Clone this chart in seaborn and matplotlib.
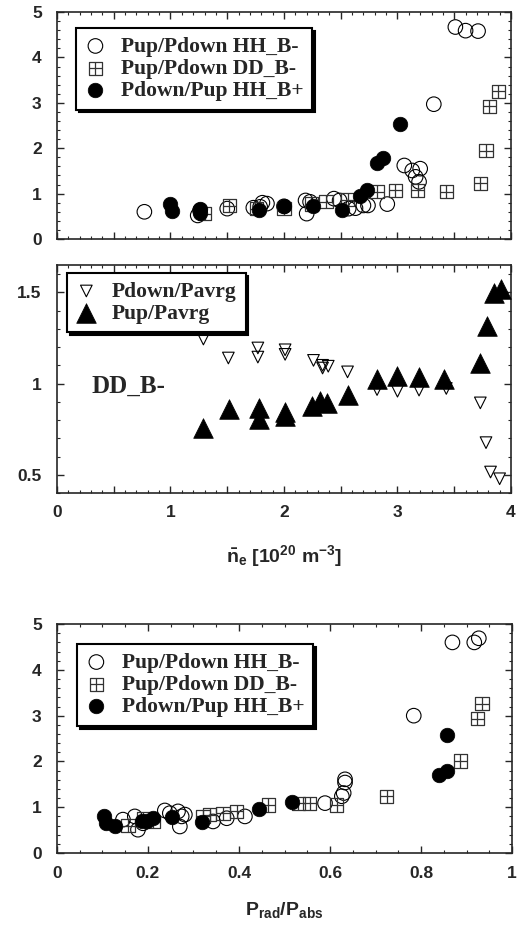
import numpy as np
import seaborn as sns
import matplotlib
import matplotlib.pyplot as plt
from matplotlib.path import Path
from matplotlib.ticker import MultipleLocator, FuncFormatter

# ---- data: top panel (vs line averaged density, 1e20 m^-3) ----
ne_hh_minus = [0.77, 1.24, 1.26, 1.50, 1.73, 1.81, 1.79, 1.85, 2.00, 2.19, 2.20, 2.23, 2.44, 2.49,
               2.57, 2.63, 2.70, 2.74, 2.91, 3.06, 3.13, 3.20, 3.16, 3.19, 3.32, 3.51, 3.60, 3.71]
r_hh_minus = [0.60, 0.52, 0.63, 0.67, 0.69, 0.80, 0.71, 0.78, 0.72, 0.85, 0.56, 0.82, 0.89, 0.85,
              0.67, 0.68, 0.74, 0.74, 0.77, 1.62, 1.51, 1.55, 1.37, 1.26, 2.97, 4.67, 4.59, 4.58]

ne_dd_minus = [1.30, 1.52, 1.76, 2.00, 2.24, 2.37, 2.56, 2.82, 2.98, 3.18, 3.43, 3.73, 3.78, 3.81, 3.89]
r_dd_minus = [0.56, 0.73, 0.67, 0.67, 0.77, 0.82, 0.87, 1.04, 1.07, 1.07, 1.04, 1.23, 1.95, 2.92, 3.25]

ne_hh_plus = [1.00, 1.01, 1.26, 1.26, 1.78, 2.00, 2.26, 2.51, 2.67, 2.73, 2.82, 2.87, 3.02]
r_hh_plus = [0.77, 0.62, 0.67, 0.58, 0.65, 0.72, 0.72, 0.65, 0.94, 1.09, 1.68, 1.79, 2.53]

# ---- data: middle panel (DD_B-) ----
ne_down = [1.29, 1.51, 1.77, 1.77, 2.01, 2.01, 2.26, 2.34, 2.34, 2.39, 2.56, 2.82, 3.00, 3.19,
           3.43, 3.73, 3.78, 3.82, 3.90]
pdown_avg = [1.244, 1.14, 1.195, 1.145, 1.185, 1.16, 1.127, 1.085, 1.10, 1.095, 1.064, 0.967,
             0.958, 0.964, 0.973, 0.894, 0.676, 0.515, 0.478]

ne_up = [1.29, 1.52, 1.78, 1.78, 2.01, 2.01, 2.25, 2.32, 2.38, 2.56, 2.82, 3.00, 3.19, 3.41,
         3.73, 3.79, 3.85, 3.91]
pup_avg = [0.758, 0.858, 0.867, 0.804, 0.844, 0.82, 0.876, 0.904, 0.895, 0.935, 1.025, 1.04,
           1.035, 1.025, 1.11, 1.316, 1.495, 1.516]

# ---- data: bottom panel (vs Prad/Pabs) ----
f_hh_minus = [0.145, 0.171, 0.178, 0.189, 0.237, 0.248, 0.266, 0.274, 0.281, 0.270, 0.343, 0.373,
              0.413, 0.589, 0.626, 0.630, 0.633, 0.633, 0.784, 0.869, 0.917, 0.927]
r2_hh_minus = [0.73, 0.80, 0.51, 0.65, 0.93, 0.87, 0.91, 0.80, 0.84, 0.58, 0.69, 0.76,
               0.80, 1.09, 1.24, 1.31, 1.54, 1.61, 3.00, 4.60, 4.60, 4.69]

f_dd_minus = [0.156, 0.190, 0.211, 0.321, 0.336, 0.365, 0.395, 0.464, 0.530, 0.555, 0.615, 0.725,
              0.886, 0.924, 0.934]
r2_dd_minus = [0.60, 0.76, 0.69, 0.80, 0.84, 0.87, 0.91, 1.05, 1.09, 1.09, 1.05, 1.24,
               2.01, 2.93, 3.26]

f_hh_plus = [0.103, 0.107, 0.127, 0.186, 0.197, 0.211, 0.252, 0.318, 0.445, 0.516, 0.839, 0.857, 0.858]
r2_hh_plus = [0.80, 0.65, 0.58, 0.69, 0.71, 0.76, 0.78, 0.67, 0.97, 1.11, 1.71, 1.80, 2.57]

lbl_hh_minus = "Pup/Pdown HH_B-"
lbl_dd_minus = "Pup/Pdown DD_B-"
lbl_hh_plus = "Pdown/Pup HH_B+"

sns.set_style("ticks")
plt.rcParams["font.family"] = ["Liberation Sans", "DejaVu Sans"]
plt.rcParams["font.weight"] = "bold"
plt.rcParams["mathtext.fontset"] = "custom"
plt.rcParams["mathtext.rm"] = "Liberation Sans:bold"
plt.rcParams["mathtext.it"] = "Liberation Sans:bold"
plt.rcParams["mathtext.bf"] = "Liberation Sans:bold"
plt.rcParams["axes.linewidth"] = 1.2

# square with a cross inside
box_plus = Path(
    [(-1, -1), (1, -1), (1, 1), (-1, 1), (-1, -1), (0, -1), (0, 1), (-1, 0), (1, 0)],
    [Path.MOVETO, Path.LINETO, Path.LINETO, Path.LINETO, Path.CLOSEPOLY,
     Path.MOVETO, Path.LINETO, Path.MOVETO, Path.LINETO],
)

fig = plt.figure(figsize=(5.31, 9.33), dpi=100)
ax1 = fig.add_axes([0.1073, 0.7438, 0.855, 0.2433])
ax2 = fig.add_axes([0.1073, 0.4716, 0.855, 0.2444])
ax3 = fig.add_axes([0.1073, 0.0857, 0.857, 0.2454])

legend_font = {"family": "Liberation Serif", "weight": "bold", "size": 15.5}
shadow = {"color": "black", "alpha": 1.0}
leg_kw = dict(loc="upper left", borderaxespad=0, prop=legend_font, frameon=True,
              fancybox=False, edgecolor="black", framealpha=1, shadow=shadow,
              handlelength=1.0, handletextpad=0.7, labelspacing=0.1, borderpad=0.4)


def ratio_panel(ax, x1, y1, x2, y2, x3, y3):
    sns.scatterplot(x=x1, y=y1, ax=ax, marker="o", s=110, facecolor="none",
                    edgecolor="black", linewidth=0.8, label=lbl_hh_minus, zorder=3)
    sns.scatterplot(x=x2, y=y2, ax=ax, marker=box_plus, s=90, facecolor="none",
                    edgecolor="#333333", linewidth=0.9, label=lbl_dd_minus, zorder=3)
    sns.scatterplot(x=x3, y=y3, ax=ax, marker="o", s=110, color="black",
                    edgecolor="black", linewidth=0.5, label=lbl_hh_plus, zorder=4)
    ax.set_ylim(0, 5)
    ax.yaxis.set_major_locator(MultipleLocator(1))
    ax.yaxis.set_minor_locator(MultipleLocator(0.2))


def style(ax):
    ax.tick_params(which="both", direction="in", top=True, right=True, labelsize=12.5)
    ax.tick_params(which="major", length=5, width=1)
    ax.tick_params(which="minor", length=2.5, width=0.8)
    ax.tick_params(axis="y", pad=11)
    ax.tick_params(axis="x", pad=9)
    for lab in ax.get_xticklabels() + ax.get_yticklabels():
        lab.set_fontweight("bold")
    ax.set_xlabel("")
    ax.set_ylabel("")


int_fmt = FuncFormatter(lambda v, p: "%d" % round(v) if abs(v - round(v)) < 1e-6 else "")

# top panel
ratio_panel(ax1, ne_hh_minus, r_hh_minus, ne_dd_minus, r_dd_minus, ne_hh_plus, r_hh_plus)
ax1.set_xlim(0, 4)
ax1.xaxis.set_major_locator(MultipleLocator(0.5))
ax1.xaxis.set_minor_locator(MultipleLocator(0.1))
ax1.tick_params(axis="x", labelbottom=False)
style(ax1)
ax1.legend(bbox_to_anchor=(0.042, 0.93), **leg_kw).get_frame().set_linewidth(1.5)

# middle panel
sns.scatterplot(x=ne_down, y=pdown_avg, ax=ax2, marker="v", s=70, facecolor="none",
                edgecolor="black", linewidth=0.8, label="Pdown/Pavrg", zorder=3)
sns.scatterplot(x=ne_up, y=pup_avg, ax=ax2, marker="^", s=200, color="black",
                edgecolor="black", linewidth=0.5, label="Pup/Pavrg", zorder=4)
ax2.set_xlim(0, 4)
ax2.set_ylim(0.4, 1.65)
ax2.xaxis.set_major_locator(MultipleLocator(0.5))
ax2.xaxis.set_minor_locator(MultipleLocator(0.1))
ax2.xaxis.set_major_formatter(int_fmt)
ax2.yaxis.set_major_locator(MultipleLocator(0.5))
ax2.yaxis.set_minor_locator(MultipleLocator(0.1))
ax2.yaxis.set_major_formatter(FuncFormatter(lambda v, p: "%g" % v))
style(ax2)
ax2.text(0.077, 0.467, "DD_B-", transform=ax2.transAxes, fontsize=18,
         family="Liberation Serif", weight="bold", va="center")
ax2.legend(bbox_to_anchor=(0.022, 0.965), **leg_kw).get_frame().set_linewidth(1.5)
ax2.set_xlabel(r"$\bar{\mathrm{n}}_{\mathrm{e}}$ [10$^{20}$ m$^{-3}$]", fontsize=14,
               fontweight="bold", labelpad=16)

# bottom panel
ratio_panel(ax3, f_hh_minus, r2_hh_minus, f_dd_minus, r2_dd_minus, f_hh_plus, r2_hh_plus)
ax3.set_xlim(0, 1)
ax3.xaxis.set_major_locator(MultipleLocator(0.2))
ax3.xaxis.set_minor_locator(MultipleLocator(0.05))
ax3.xaxis.set_major_formatter(FuncFormatter(lambda v, p: "%g" % round(v, 2)))
style(ax3)
ax3.legend(bbox_to_anchor=(0.044, 0.913), **leg_kw).get_frame().set_linewidth(1.5)
ax3.set_xlabel(r"P$_{\mathrm{rad}}$/P$_{\mathrm{abs}}$", fontsize=14, fontweight="bold", labelpad=14)

fig.savefig("out.png", dpi=100)
